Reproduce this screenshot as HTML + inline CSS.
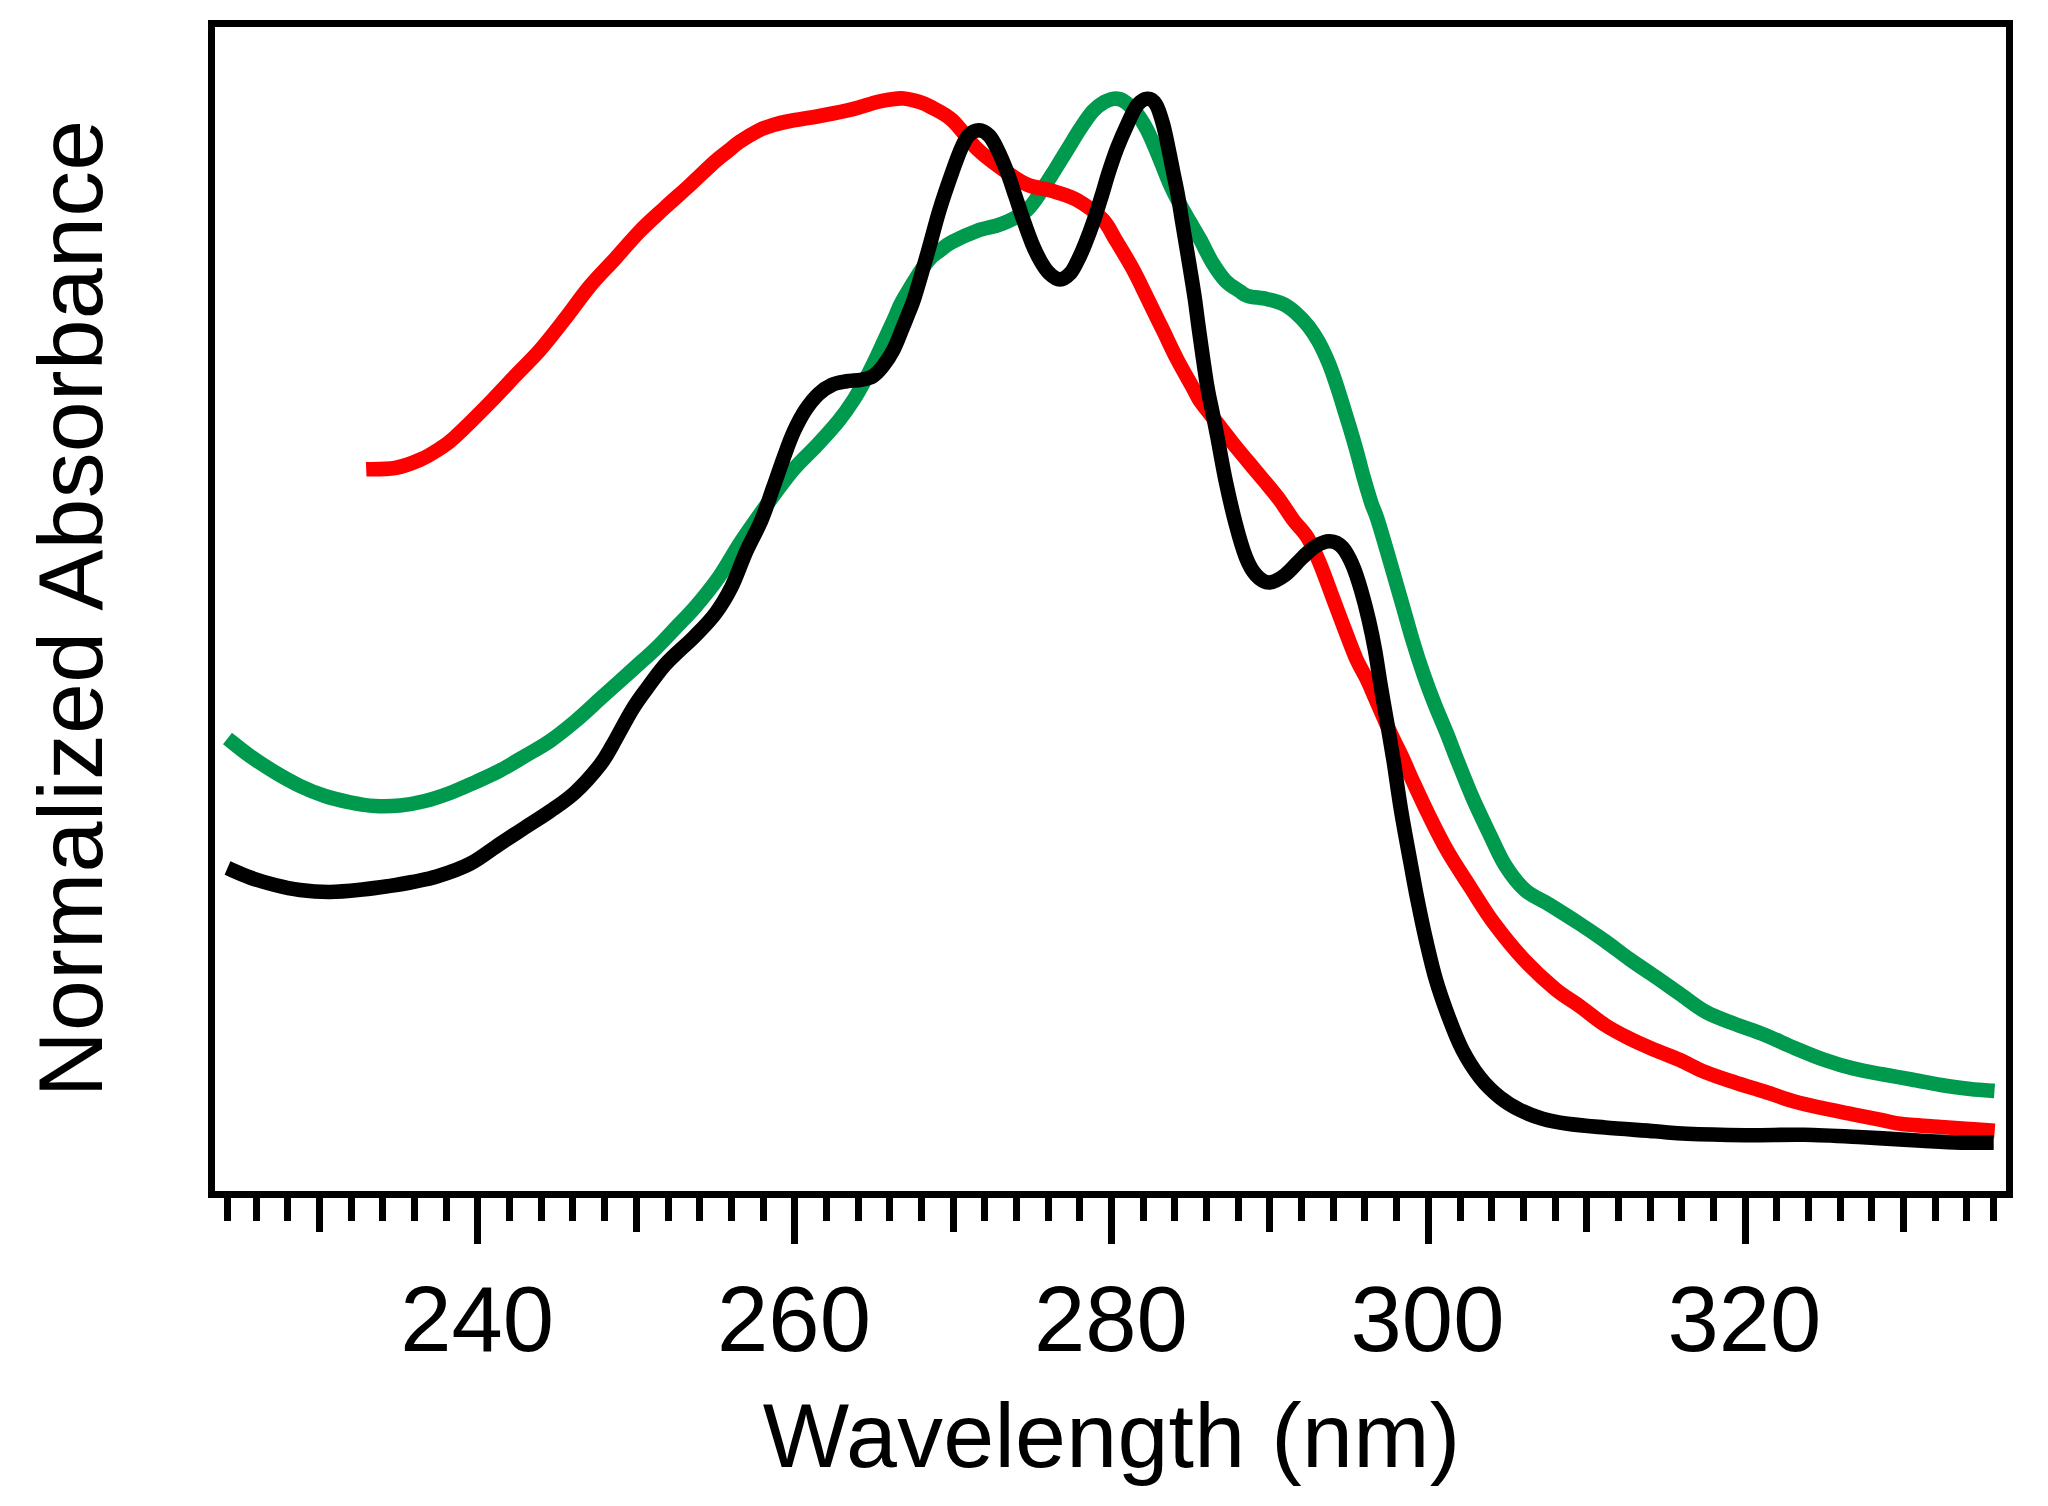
<!DOCTYPE html>
<html><head><meta charset="utf-8"><title>Normalized Absorbance vs Wavelength</title>
<style>
html,body{margin:0;padding:0;background:#fff;}
svg{display:block;}
text{font-family:"Liberation Sans",Arial,Helvetica,sans-serif;fill:#000;}
.tl{font-size:92.2px;}
.ax{font-size:91.5px;letter-spacing:0.3px;}
</style></head><body>
<svg width="2048" height="1506" viewBox="0 0 2048 1506">
<rect width="2048" height="1506" fill="#fff"/>
<g fill="none" stroke-width="14.6" stroke-linejoin="round" stroke-linecap="butt">
<path stroke="#009a4e" d="M227.5 738.5C231.2 741.4 242.1 750.4 250.0 756.0C257.9 761.6 266.7 767.3 275.0 772.3C283.3 777.3 291.7 782.0 300.0 786.0C308.3 790.0 316.7 793.3 325.0 796.0C333.3 798.7 341.7 800.6 350.0 802.3C358.3 804.0 366.7 805.5 375.0 806.0C383.3 806.5 391.7 806.3 400.0 805.5C408.3 804.7 416.7 803.1 425.0 801.0C433.3 798.9 441.7 796.1 450.0 793.0C458.3 789.9 466.7 786.0 475.0 782.3C483.3 778.5 491.7 774.9 500.0 770.5C508.3 766.1 516.7 760.9 525.0 756.0C533.3 751.1 541.7 746.8 550.0 741.0C558.3 735.2 566.4 728.7 575.0 721.5C583.6 714.3 591.7 706.5 601.4 697.7C611.1 689.0 624.3 677.2 633.3 669.0C642.3 660.8 648.6 655.5 655.6 648.7C662.6 642.0 668.4 635.5 675.0 628.5C681.6 621.5 688.1 615.5 695.5 606.8C702.9 598.1 712.2 586.7 719.4 576.4C726.6 566.1 733.5 553.2 738.8 545.0C744.1 536.8 746.0 534.1 751.0 527.0C756.0 519.9 761.5 511.8 768.5 502.3C775.5 492.8 784.9 479.6 793.0 470.0C801.1 460.4 809.5 453.3 817.2 445.0C824.9 436.7 833.1 427.7 839.2 420.1C845.3 412.5 849.4 406.4 853.8 399.6C858.2 392.8 861.8 385.9 865.5 379.1C869.2 372.3 872.4 365.7 875.8 358.6C879.2 351.5 882.8 343.4 886.0 336.6C889.2 329.8 892.0 323.7 894.8 317.6C897.6 311.5 897.5 309.3 902.9 300.0C908.3 290.7 920.8 270.2 927.0 262.0C933.2 253.8 935.8 253.8 940.0 250.5C944.2 247.2 945.8 245.3 952.0 242.0C958.2 238.7 968.7 233.8 977.0 230.8C985.3 227.8 993.7 227.3 1002.0 223.8C1010.3 220.3 1020.1 216.1 1027.0 210.0C1033.9 203.9 1039.0 194.2 1043.6 187.5C1048.2 180.8 1050.8 176.4 1054.8 170.0C1058.8 163.6 1063.2 156.2 1067.5 149.3C1071.8 142.4 1076.0 135.0 1080.3 128.6C1084.5 122.2 1089.0 115.4 1093.0 111.0C1097.0 106.6 1100.7 104.2 1104.2 102.2C1107.7 100.2 1110.6 99.0 1113.8 98.7C1117.0 98.5 1119.6 98.4 1123.3 100.7C1127.0 103.0 1132.1 107.7 1136.1 112.6C1140.1 117.5 1143.5 122.9 1147.2 130.1C1150.9 137.3 1154.8 146.9 1158.4 155.6C1162.0 164.2 1165.5 174.0 1169.0 182.0C1172.5 190.0 1176.0 196.8 1179.5 203.5C1183.0 210.2 1186.5 215.9 1190.0 222.0C1193.5 228.1 1196.8 233.2 1200.5 240.0C1204.2 246.8 1208.3 256.1 1212.5 262.9C1216.7 269.7 1220.9 276.1 1225.5 280.8C1230.1 285.5 1236.2 288.8 1239.9 291.3C1243.6 293.8 1243.3 294.6 1247.8 295.9C1252.3 297.2 1261.2 297.8 1267.0 299.1C1272.8 300.4 1278.1 301.6 1282.9 303.9C1287.7 306.2 1291.3 309.0 1295.6 312.7C1299.8 316.4 1304.7 321.5 1308.4 326.2C1312.1 330.9 1315.1 335.6 1318.0 340.6C1320.9 345.7 1323.5 351.2 1325.9 356.5C1328.3 361.8 1330.2 366.6 1332.3 372.5C1334.4 378.4 1336.6 385.0 1338.7 391.6C1340.8 398.2 1343.0 405.4 1345.1 412.3C1347.2 419.2 1349.3 425.8 1351.4 433.0C1353.5 440.2 1355.7 447.7 1357.8 455.4C1359.9 463.1 1361.9 471.3 1364.2 479.3C1366.5 487.3 1369.2 496.4 1371.4 503.2C1373.7 510.0 1374.4 509.7 1377.7 520.0C1381.0 530.3 1386.9 550.8 1391.0 565.0C1395.1 579.2 1398.9 592.5 1402.5 605.0C1406.1 617.5 1409.0 628.3 1412.5 640.0C1416.0 651.7 1420.0 664.2 1423.8 675.0C1427.5 685.8 1431.0 695.0 1435.0 705.0C1439.0 715.0 1443.7 725.5 1447.5 735.0C1451.3 744.5 1453.8 751.6 1458.0 762.0C1462.2 772.4 1467.2 785.3 1472.5 797.5C1477.8 809.7 1484.6 823.8 1490.0 835.0C1495.4 846.2 1499.2 855.8 1505.0 865.0C1510.8 874.2 1517.5 883.3 1525.0 890.0C1532.5 896.7 1540.8 899.3 1550.0 905.0C1559.2 910.7 1570.8 918.0 1580.0 924.0C1589.2 930.0 1596.7 935.1 1605.0 941.0C1613.3 946.9 1621.7 953.6 1630.0 959.5C1638.3 965.4 1646.7 970.8 1655.0 976.5C1663.3 982.2 1671.5 988.1 1680.0 994.0C1688.5 999.9 1696.8 1007.0 1706.0 1012.0C1715.2 1017.0 1725.2 1020.2 1735.0 1024.0C1744.8 1027.8 1755.1 1031.0 1765.0 1035.0C1774.9 1039.0 1784.7 1043.8 1794.5 1047.9C1804.3 1052.0 1814.0 1056.2 1823.8 1059.6C1833.5 1063.0 1843.2 1066.0 1853.0 1068.4C1862.8 1070.9 1872.6 1072.5 1882.4 1074.3C1892.2 1076.1 1901.9 1077.7 1911.7 1079.5C1921.5 1081.3 1931.2 1083.4 1941.0 1085.0C1950.8 1086.6 1961.4 1087.9 1970.3 1088.9C1979.2 1089.9 1990.5 1090.6 1994.5 1090.9"/>
<path stroke="#ff0000" d="M366.2 469.3C371.0 469.1 386.0 469.6 395.0 468.0C404.0 466.4 412.5 463.1 420.0 459.8C427.5 456.6 434.2 452.3 440.0 448.5C445.8 444.7 446.7 444.7 455.0 437.0C463.3 429.3 480.0 412.7 490.0 402.5C500.0 392.3 506.7 384.8 515.0 376.0C523.3 367.2 531.7 359.5 540.0 350.0C548.3 340.5 556.7 329.5 565.0 318.8C573.3 308.1 581.7 296.0 590.0 286.0C598.3 276.0 606.7 268.0 615.0 258.8C623.3 249.6 631.7 239.6 640.0 231.0C648.3 222.4 656.7 215.2 665.0 207.5C673.3 199.8 681.7 192.7 690.0 185.0C698.3 177.3 708.5 167.3 715.0 161.5C721.5 155.7 725.1 153.3 729.3 150.0C733.5 146.7 735.1 144.8 740.0 141.5C744.9 138.2 753.1 133.2 758.6 130.4C764.1 127.7 767.8 126.6 773.0 125.0C778.2 123.4 782.7 122.4 790.0 121.0C797.3 119.6 807.6 118.2 817.0 116.5C826.4 114.8 838.9 112.4 846.4 110.7C853.9 109.0 856.9 108.0 862.0 106.5C867.1 105.0 872.3 103.2 877.0 102.0C881.7 100.8 885.6 100.1 890.0 99.5C894.4 98.9 898.6 98.1 903.5 98.5C908.4 98.9 915.2 100.7 919.6 102.0C924.0 103.3 924.6 103.5 930.0 106.5C935.4 109.5 944.2 113.0 952.0 120.0C959.8 127.0 968.7 140.7 977.0 148.8C985.3 156.9 993.7 162.9 1002.0 168.8C1010.3 174.8 1018.7 180.8 1027.0 184.5C1035.3 188.2 1043.7 188.2 1052.0 190.8C1060.3 193.4 1068.6 195.2 1077.0 200.0C1085.4 204.8 1096.1 212.7 1102.6 219.4C1109.0 226.1 1110.6 231.6 1115.7 240.0C1120.8 248.4 1127.9 259.9 1133.3 269.9C1138.7 279.9 1143.2 289.9 1148.1 299.8C1153.0 309.8 1157.8 319.7 1162.7 329.6C1167.6 339.6 1172.0 349.5 1177.2 359.5C1182.4 369.5 1190.1 382.6 1193.8 389.4C1197.5 396.1 1195.8 394.6 1199.5 400.0C1203.2 405.4 1210.6 414.5 1216.0 421.5C1221.4 428.5 1226.6 435.3 1231.9 442.0C1237.2 448.7 1242.7 455.1 1248.0 461.5C1253.3 467.9 1258.5 474.0 1263.8 480.4C1269.1 486.8 1274.8 493.4 1279.7 500.0C1284.6 506.6 1288.7 513.8 1293.3 520.0C1297.9 526.2 1303.0 530.2 1307.5 537.5C1312.0 544.8 1315.9 554.1 1320.0 563.8C1324.1 573.5 1328.0 585.0 1332.0 595.6C1336.0 606.2 1339.9 616.9 1344.0 627.5C1348.1 638.1 1352.6 650.6 1356.5 659.4C1360.4 668.1 1364.0 673.2 1367.2 680.0C1370.5 686.8 1372.1 691.2 1376.0 700.0C1379.9 708.8 1385.9 723.0 1390.5 733.0C1395.1 743.0 1399.9 752.2 1403.5 760.0C1407.1 767.8 1408.0 770.7 1412.3 780.0C1416.6 789.3 1423.3 803.9 1429.2 815.9C1435.1 827.9 1440.9 839.8 1447.8 851.7C1454.7 863.7 1462.8 875.7 1470.5 887.6C1478.2 899.5 1485.1 911.3 1494.1 923.4C1503.1 935.5 1514.1 949.1 1524.3 960.0C1534.5 970.9 1545.7 981.1 1555.0 988.8C1564.3 996.5 1571.7 1000.3 1580.0 1006.3C1588.3 1012.3 1596.7 1019.6 1605.0 1025.0C1613.3 1030.4 1621.7 1034.6 1630.0 1038.8C1638.3 1043.0 1646.7 1046.5 1655.0 1050.0C1663.3 1053.5 1671.7 1056.3 1680.0 1060.0C1688.3 1063.7 1695.8 1068.2 1705.0 1072.0C1714.2 1075.8 1725.0 1079.2 1735.0 1082.5C1745.0 1085.8 1755.1 1088.6 1765.0 1091.8C1774.9 1095.0 1784.7 1098.8 1794.5 1101.6C1804.3 1104.4 1814.0 1106.3 1823.8 1108.4C1833.5 1110.5 1843.2 1112.3 1853.0 1114.3C1862.8 1116.3 1874.2 1118.6 1882.4 1120.2C1890.6 1121.8 1892.2 1122.9 1902.0 1124.0C1911.8 1125.1 1929.6 1126.2 1941.0 1127.0C1952.4 1127.8 1961.3 1128.3 1970.3 1129.0C1979.2 1129.7 1990.6 1130.6 1994.7 1130.9"/>
<path stroke="#000" d="M227.5 868.0C231.2 869.6 242.1 874.7 250.0 877.5C257.9 880.3 266.7 882.9 275.0 885.0C283.3 887.1 290.8 888.8 300.0 890.0C309.2 891.2 319.6 892.1 330.0 892.0C340.4 891.9 352.9 890.5 362.5 889.5C372.1 888.5 379.2 887.5 387.5 886.3C395.8 885.0 404.2 883.7 412.5 882.0C420.8 880.3 427.9 879.3 437.5 876.3C447.1 873.3 459.6 869.2 470.0 863.8C480.4 858.4 490.8 849.8 500.0 843.8C509.2 837.8 516.7 832.9 525.0 827.5C533.3 822.1 541.7 817.1 550.0 811.3C558.3 805.5 566.7 800.2 575.0 792.5C583.3 784.8 593.8 772.9 600.0 765.0C606.2 757.1 607.2 754.2 612.5 745.0C617.8 735.8 626.1 719.7 632.0 710.0C637.9 700.3 642.7 694.3 648.0 687.0C653.3 679.7 658.8 672.0 664.0 666.0C669.2 660.0 674.0 655.8 679.0 651.0C684.0 646.2 688.0 643.2 694.0 637.0C700.0 630.8 708.8 622.3 715.0 614.0C721.2 605.7 726.3 597.3 731.5 587.0C736.7 576.7 741.0 563.2 746.0 552.0C751.0 540.8 757.0 530.8 761.5 520.0C766.0 509.2 769.5 497.8 773.2 487.5C776.9 477.2 780.1 467.5 783.5 458.2C786.9 448.9 790.0 439.9 793.7 431.8C797.4 423.8 801.3 416.2 805.5 409.9C809.7 403.6 814.3 397.9 818.7 393.8C823.1 389.7 827.2 387.1 831.8 385.0C836.4 382.9 841.6 382.2 846.5 381.3C851.4 380.4 856.7 380.7 861.1 379.8C865.5 378.9 869.1 378.5 872.8 376.2C876.5 373.9 879.7 370.3 883.1 365.9C886.5 361.5 890.2 355.9 893.4 349.8C896.6 343.7 899.7 335.2 902.1 329.3C904.5 323.4 905.9 319.9 908.0 314.6C910.1 309.3 911.3 307.4 914.5 297.5C917.7 287.6 922.8 269.6 927.0 255.0C931.2 240.4 935.3 223.9 939.5 210.0C943.7 196.1 948.7 182.0 952.4 171.6C956.1 161.2 958.7 153.8 961.5 147.7C964.3 141.6 966.1 137.9 969.0 135.0C971.9 132.1 975.7 130.2 979.0 130.3C982.3 130.4 986.1 132.6 989.0 135.5C991.9 138.4 993.6 141.7 996.6 147.7C999.6 153.7 1003.9 163.6 1007.0 171.6C1010.1 179.6 1012.5 187.5 1015.2 195.5C1017.9 203.5 1020.4 211.4 1023.2 219.4C1026.0 227.4 1029.1 236.4 1032.0 243.3C1034.9 250.2 1037.7 256.1 1040.5 261.0C1043.3 265.9 1045.8 269.9 1049.0 273.0C1052.2 276.1 1056.3 279.4 1059.9 279.4C1063.5 279.4 1067.5 276.2 1070.5 273.0C1073.5 269.8 1075.5 264.9 1078.0 260.0C1080.5 255.1 1082.7 250.1 1085.4 243.3C1088.1 236.5 1091.5 227.4 1094.2 219.4C1096.9 211.4 1099.3 203.5 1101.8 195.5C1104.3 187.5 1106.4 179.6 1109.0 171.6C1111.6 163.6 1114.2 155.7 1117.3 147.7C1120.4 139.7 1124.3 130.8 1127.6 123.8C1130.9 116.8 1133.7 109.7 1137.0 105.5C1140.3 101.3 1144.0 98.9 1147.2 98.7C1150.4 98.5 1153.4 100.3 1156.0 104.5C1158.6 108.7 1160.9 116.6 1162.9 123.8C1165.0 131.0 1166.6 139.7 1168.3 147.7C1170.0 155.7 1171.5 163.6 1173.1 171.6C1174.7 179.6 1176.5 187.5 1177.9 195.5C1179.4 203.5 1180.5 211.4 1181.8 219.4C1183.1 227.4 1184.5 235.3 1185.8 243.3C1187.1 251.3 1188.3 257.8 1189.8 267.2C1191.3 276.6 1193.5 289.5 1195.0 300.0C1196.5 310.5 1197.0 315.8 1199.0 330.0C1201.0 344.2 1204.8 371.7 1207.0 385.0C1209.2 398.3 1210.2 401.2 1212.0 410.0C1213.8 418.8 1215.2 425.4 1217.5 437.5C1219.8 449.6 1222.9 467.9 1226.0 482.5C1229.1 497.1 1232.7 512.5 1236.0 525.0C1239.3 537.5 1242.7 549.2 1246.0 557.5C1249.3 565.8 1252.2 570.8 1256.0 575.0C1259.8 579.2 1264.0 582.5 1268.8 582.5C1273.6 582.5 1279.4 579.2 1285.0 575.0C1290.6 570.8 1297.3 562.3 1302.5 557.5C1307.7 552.7 1311.4 548.7 1316.0 546.0C1320.6 543.3 1325.6 541.0 1330.0 541.3C1334.4 541.5 1338.8 543.5 1342.5 547.5C1346.2 551.5 1349.4 557.9 1352.5 565.0C1355.6 572.1 1358.3 580.8 1361.0 590.0C1363.7 599.2 1366.5 610.0 1368.8 620.0C1371.1 630.0 1373.0 638.8 1375.0 650.0C1377.0 661.2 1378.9 675.0 1381.0 687.5C1383.1 700.0 1385.4 712.6 1387.5 725.0C1389.6 737.4 1391.5 747.8 1393.8 762.0C1396.0 776.2 1398.3 793.7 1401.0 810.0C1403.7 826.3 1407.2 845.0 1410.0 860.0C1412.8 875.0 1414.8 886.7 1417.5 900.0C1420.2 913.3 1422.9 926.7 1426.0 940.0C1429.1 953.3 1432.2 967.1 1436.0 980.0C1439.8 992.9 1444.4 1005.8 1448.8 1017.5C1453.2 1029.2 1457.3 1040.0 1462.5 1050.0C1467.7 1060.0 1473.8 1069.6 1480.0 1077.5C1486.2 1085.4 1493.3 1092.1 1500.0 1097.5C1506.7 1102.9 1512.9 1106.5 1520.0 1110.0C1527.1 1113.5 1534.6 1116.5 1542.5 1118.8C1550.4 1121.1 1557.1 1122.3 1567.5 1123.8C1577.9 1125.2 1590.4 1126.2 1605.0 1127.5C1619.6 1128.8 1641.3 1130.2 1655.0 1131.3C1668.7 1132.3 1671.9 1133.1 1687.0 1133.8C1702.1 1134.5 1726.2 1135.0 1745.7 1135.2C1765.2 1135.4 1784.5 1134.5 1804.0 1134.8C1823.5 1135.1 1843.2 1136.3 1862.8 1137.3C1882.4 1138.3 1905.1 1139.8 1921.4 1140.7C1937.7 1141.6 1948.5 1142.3 1960.5 1142.6C1972.5 1142.9 1988.2 1142.6 1993.7 1142.6"/>
</g>
<rect x="211.5" y="23" width="1798" height="1171.5" fill="none" stroke="#000" stroke-width="7" shape-rendering="crispEdges"/>
<g fill="#000" shape-rendering="crispEdges"><rect x="224.1" y="1194" width="7" height="27"/><rect x="252.6" y="1194" width="7" height="27"/><rect x="284.3" y="1194" width="7" height="27"/><rect x="316.0" y="1194" width="7" height="38"/><rect x="347.7" y="1194" width="7" height="27"/><rect x="379.4" y="1194" width="7" height="27"/><rect x="411.0" y="1194" width="7" height="27"/><rect x="442.7" y="1194" width="7" height="27"/><rect x="474.4" y="1194" width="7" height="50"/><rect x="506.1" y="1194" width="7" height="27"/><rect x="537.8" y="1194" width="7" height="27"/><rect x="569.4" y="1194" width="7" height="27"/><rect x="601.1" y="1194" width="7" height="27"/><rect x="632.8" y="1194" width="7" height="38"/><rect x="664.5" y="1194" width="7" height="27"/><rect x="696.2" y="1194" width="7" height="27"/><rect x="727.8" y="1194" width="7" height="27"/><rect x="759.5" y="1194" width="7" height="27"/><rect x="791.2" y="1194" width="7" height="50"/><rect x="822.9" y="1194" width="7" height="27"/><rect x="854.6" y="1194" width="7" height="27"/><rect x="886.2" y="1194" width="7" height="27"/><rect x="917.9" y="1194" width="7" height="27"/><rect x="949.6" y="1194" width="7" height="38"/><rect x="981.3" y="1194" width="7" height="27"/><rect x="1013.0" y="1194" width="7" height="27"/><rect x="1044.6" y="1194" width="7" height="27"/><rect x="1076.3" y="1194" width="7" height="27"/><rect x="1108.0" y="1194" width="7" height="50"/><rect x="1139.7" y="1194" width="7" height="27"/><rect x="1171.4" y="1194" width="7" height="27"/><rect x="1203.0" y="1194" width="7" height="27"/><rect x="1234.7" y="1194" width="7" height="27"/><rect x="1266.4" y="1194" width="7" height="38"/><rect x="1298.1" y="1194" width="7" height="27"/><rect x="1329.8" y="1194" width="7" height="27"/><rect x="1361.4" y="1194" width="7" height="27"/><rect x="1393.1" y="1194" width="7" height="27"/><rect x="1424.8" y="1194" width="7" height="50"/><rect x="1456.5" y="1194" width="7" height="27"/><rect x="1488.2" y="1194" width="7" height="27"/><rect x="1519.8" y="1194" width="7" height="27"/><rect x="1551.5" y="1194" width="7" height="27"/><rect x="1583.2" y="1194" width="7" height="38"/><rect x="1614.9" y="1194" width="7" height="27"/><rect x="1646.6" y="1194" width="7" height="27"/><rect x="1678.2" y="1194" width="7" height="27"/><rect x="1709.9" y="1194" width="7" height="27"/><rect x="1741.6" y="1194" width="7" height="50"/><rect x="1773.3" y="1194" width="7" height="27"/><rect x="1805.0" y="1194" width="7" height="27"/><rect x="1836.6" y="1194" width="7" height="27"/><rect x="1868.3" y="1194" width="7" height="27"/><rect x="1900.0" y="1194" width="7" height="38"/><rect x="1931.7" y="1194" width="7" height="27"/><rect x="1963.4" y="1194" width="7" height="27"/><rect x="1990.0" y="1194" width="7" height="27"/></g>
<g class="tl"><text x="477.1" y="1350.5" text-anchor="middle">240</text><text x="794.0" y="1350.5" text-anchor="middle">260</text><text x="1110.8" y="1350.5" text-anchor="middle">280</text><text x="1427.5" y="1350.5" text-anchor="middle">300</text><text x="1744.3" y="1350.5" text-anchor="middle">320</text></g>
<text class="ax" x="1111.6" y="1467" text-anchor="middle">Wavelength (nm)</text>
<text class="ax" transform="translate(102.2 608.4) rotate(-90)" text-anchor="middle">Normalized Absorbance</text>
</svg>
</body></html>
